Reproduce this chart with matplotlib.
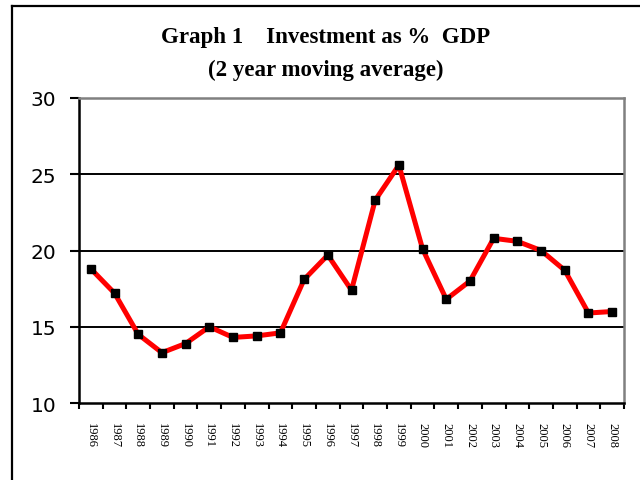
import matplotlib.pyplot as plt
from matplotlib.lines import Line2D

years = [str(y) for y in range(1986, 2009)]
investment = [18.8, 17.2, 14.5, 13.3, 13.9, 15.0, 14.3, 14.4, 14.6, 18.1, 19.7, 17.4,
              23.3, 25.6, 20.1, 16.8, 18.0, 20.8, 20.6, 20.0, 18.7, 15.9, 16.0]

W, H = 640, 481
fig = plt.figure(figsize=(W / 100, H / 100), dpi=100)
ax = fig.add_axes([79 / W, 1 - 404 / H, (624 - 79) / W, (404 - 99) / H])

x = list(range(len(years)))
ax.plot(x, investment, color='#ff0000', linewidth=3.6, solid_joinstyle='round',
        marker='s', markersize=6, markerfacecolor='black', markeredgecolor='black', zorder=3)

ax.set_ylim(10, 30)
ax.set_yticks([10, 15, 20, 25, 30])
ax.set_xlim(-0.5, len(years) - 0.5)

# tick marks sit between the years, labels sit under each point
ax.set_xticks([i - 0.5 for i in range(len(years) + 1)])
ax.set_xticklabels([])
ax.set_xticks(x, minor=True)
ax.set_xticklabels(years, minor=True, rotation=270, fontsize=9, family='Liberation Serif')
ax.tick_params(axis='x', which='major', direction='out', length=4, width=1.5, color='black')
ax.tick_params(axis='x', which='minor', length=0, pad=13.5)
ax.tick_params(axis='y', direction='out', length=6.5, width=1.5, pad=10, labelsize=14.5)

for v in [15, 20, 25]:
    ax.axhline(v, color='black', linewidth=1.4, zorder=1)

for s in ['left', 'bottom']:
    ax.spines[s].set_color('black')
    ax.spines[s].set_linewidth(1.8)
for s in ['top', 'right']:
    ax.spines[s].set_color('#808080')
    ax.spines[s].set_linewidth(1.8)

fig.text(326 / W, 1 - 38 / H, 'Graph 1    Investment as %  GDP', ha='center', va='center',
         fontsize=16.5, fontweight='bold', family='Liberation Serif')
fig.text(326 / W, 1 - 70 / H, '(2 year moving average)', ha='center', va='center',
         fontsize=16.5, fontweight='bold', family='Liberation Serif')

# outer frame
fig.add_artist(Line2D([12 / W, 12 / W], [0, 1 - 7 / H], color='black', linewidth=1.6))
fig.add_artist(Line2D([12 / W, 1], [1 - 7 / H, 1 - 7 / H], color='black', linewidth=1.6))

fig.savefig('out.png', dpi=100)
